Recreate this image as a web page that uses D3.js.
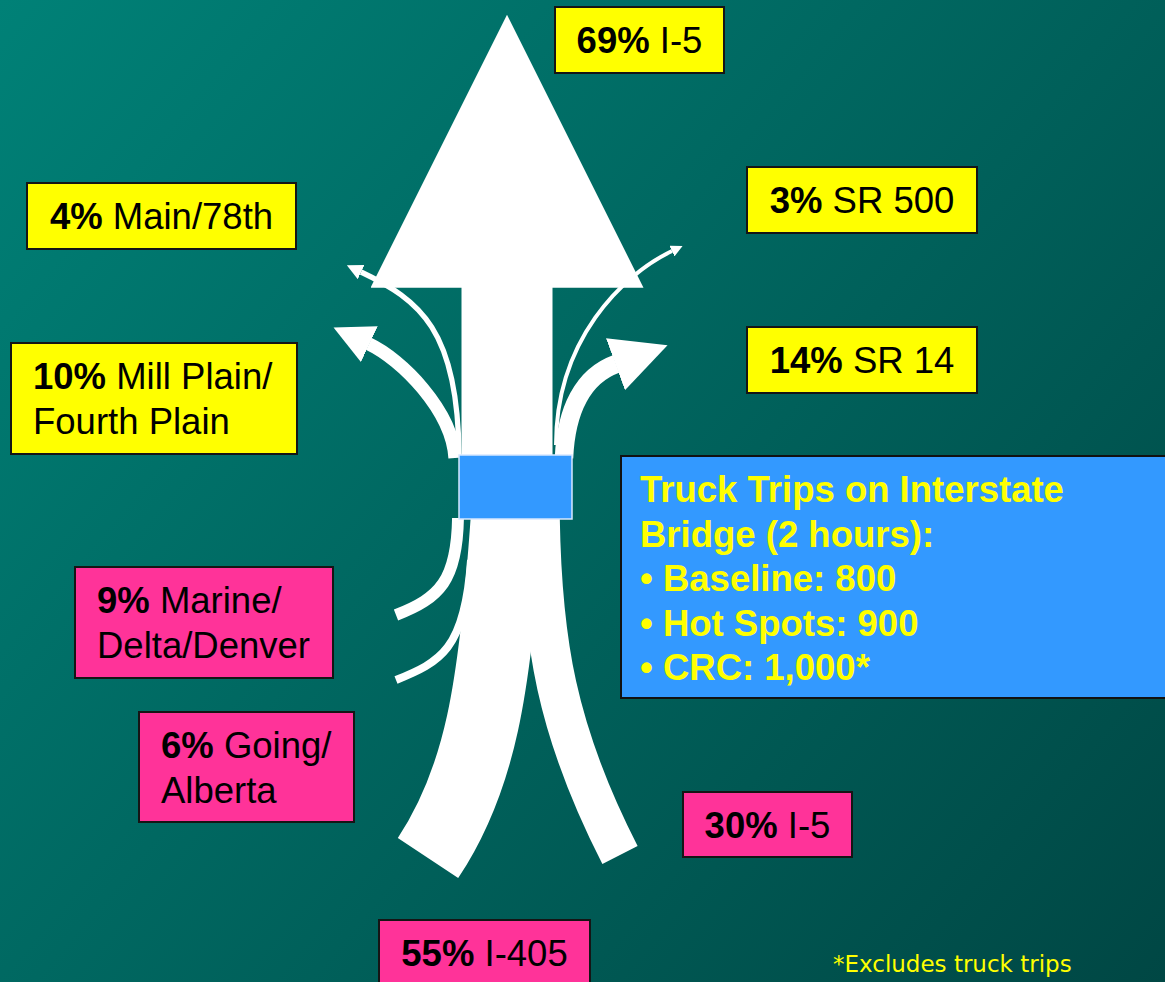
<!DOCTYPE html>
<html lang="en">
<head>
<meta charset="UTF-8">
<title>Truck trips on the Interstate Bridge</title>
<script src="https://cdn.jsdelivr.net/npm/d3@7"></script>
<style>
  html, body { margin: 0; padding: 0; background: #006660; }
  svg { display: block; }
</style>
</head>
<body>
<svg id="chart" width="1165" height="982"></svg>
<script>
// flows leaving the bridge (northbound)
var outRoutes = ["I-5", "SR 14", "Mill Plain/|Fourth Plain", "Main/78th", "SR 500"];
var outShares = [69, 14, 10, 4, 3];
// flows arriving at the bridge (from the south)
var inRoutes = ["I-405", "I-5", "Marine/|Delta/Denver", "Going/|Alberta"];
var inShares = [55, 30, 9, 6];
// truck trips on the bridge, 2 hours
var tripScenarios = ["Baseline", "Hot Spots", "CRC"];
var tripCounts = [800, 900, 1000];

// drawing layout: flow curve (cubic bezier) and label box for each route
var outLayout = [
  {curve: [[507,456],[507,400],[507,330],[507,285]], box: [555,7,169,66]},
  {curve: [[564,458],[566,410],[583,376],[616,364]], box: [747,327,230,66]},
  {curve: [[455,458],[452,410],[401,359],[369,344]], box: [11,343,286,111]},
  {curve: [[459,455],[458,330],[420,300],[361,272]], box: [27,183,269,66]},
  {curve: [[556,445],[556,340],[622,275],[672,251]], box: [747,167,230,66]}
];
var inLayout = [
  {curve: [[507,518],[495,690],[480,780],[428,858]], box: [379,920,211,70]},
  {curve: [[540,518],[542,640],[556,730],[620,855]], box: [683,792,169,65]},
  {curve: [[458,518],[457,580],[440,598],[396,615]], box: [75,567,258,111]},
  {curve: [[471,560],[465,650],[440,662],[396,680]], box: [139,712,215,110]}
];

var svg = d3.select("#chart");
var W = +svg.attr("width"), H = +svg.attr("height");

var defs = svg.append("defs");
var bg = defs.append("linearGradient").attr("id", "bg")
    .attr("gradientUnits", "userSpaceOnUse")
    .attr("x1", 0).attr("y1", 0).attr("x2", W).attr("y2", H);
bg.append("stop").attr("offset", 0).attr("stop-color", "#008177");
bg.append("stop").attr("offset", 1).attr("stop-color", "#004744");

defs.append("marker").attr("id", "head")
    .attr("viewBox", "0 0 10 10")
    .attr("markerUnits", "strokeWidth")
    .attr("markerWidth", 3).attr("markerHeight", 3)
    .attr("refX", 0.1).attr("refY", 5)
    .attr("orient", "auto")
  .append("path").attr("d", "M0,0L10,5L0,10Z").attr("fill", "#fff");

svg.append("rect").attr("width", W).attr("height", H).attr("fill", "url(#bg)");

// flow width proportional to share of trips
var width = d3.scaleLinear().domain([0, 69]).range([0, 91]);

function bez(c) {
  var p = d3.path();
  p.moveTo(c[0][0], c[0][1]);
  p.bezierCurveTo(c[1][0], c[1][1], c[2][0], c[2][1], c[3][0], c[3][1]);
  return p.toString();
}

var inData = inShares.map(function(v, i) { return {pct: v, route: inRoutes[i], lay: inLayout[i], fill: "#ff3399"}; });
var outData = outShares.map(function(v, i) { return {pct: v, route: outRoutes[i], lay: outLayout[i], fill: "#ffff00"}; });

svg.append("g").selectAll("path").data(inData).enter().append("path")
    .attr("d", function(d) { return bez(d.lay.curve); })
    .attr("fill", "none").attr("stroke", "#fff")
    .attr("stroke-width", function(d) { return width(d.pct); });

svg.append("g").selectAll("path").data(outData).enter().append("path")
    .attr("d", function(d) { return bez(d.lay.curve); })
    .attr("fill", "none").attr("stroke", "#fff")
    .attr("stroke-width", function(d) { return width(d.pct); })
    .attr("marker-end", "url(#head)");

// the bridge
svg.append("rect").attr("x", 459).attr("y", 455).attr("width", 113).attr("height", 64)
    .attr("fill", "#3399ff").attr("stroke", "#d8e8ff").attr("stroke-width", 1.5);

// label boxes
var labels = svg.append("g").selectAll("g").data(outData.concat(inData)).enter().append("g");
labels.append("rect")
    .attr("x", function(d) { return d.lay.box[0]; })
    .attr("y", function(d) { return d.lay.box[1]; })
    .attr("width", function(d) { return d.lay.box[2]; })
    .attr("height", function(d) { return d.lay.box[3]; })
    .attr("fill", function(d) { return d.fill; })
    .attr("stroke", "#151515").attr("stroke-width", 2);

labels.each(function(d) {
  var g = d3.select(this), b = d.lay.box;
  var lines = d.route.split("|");
  var t = g.append("text").attr("font-family", "'Liberation Sans', Arial, sans-serif")
      .attr("font-size", 36.5).attr("fill", "#000");
  if (lines.length === 1) {
    t.attr("x", b[0] + b[2] / 2).attr("y", b[1] + 46).attr("text-anchor", "middle");
    t.append("tspan").attr("font-weight", "bold").text(d.pct + "%");
    t.append("tspan").text(" " + lines[0]);
  } else {
    var x0 = b[0] + 22;
    var l1 = t.append("tspan").attr("x", x0).attr("y", b[1] + 46);
    l1.append("tspan").attr("font-weight", "bold").text(d.pct + "%");
    l1.append("tspan").text(" " + lines[0]);
    t.append("tspan").attr("x", x0).attr("y", b[1] + 91).text(lines[1]);
  }
});

// info box
svg.append("rect").attr("x", 621).attr("y", 456).attr("width", 600).attr("height", 242)
    .attr("fill", "#3399ff").attr("stroke", "#111").attr("stroke-width", 2);
var fmt = d3.format(",");
var infoLines = ["Truck Trips on Interstate", "Bridge (2 hours):"].concat(
  tripScenarios.map(function(s, i) { return "\u2022 " + s + ": " + fmt(tripCounts[i]) + (s === "CRC" ? "*" : ""); }));
svg.append("text").attr("font-family", "'Liberation Sans', Arial, sans-serif")
    .attr("font-size", 36.5).attr("font-weight", "bold").attr("fill", "#ffff00")
  .selectAll("tspan").data(infoLines).enter().append("tspan")
    .attr("x", 640).attr("y", function(d, i) { return 502 + i * 44.5; })
    .text(function(d) { return d; });

svg.append("text").attr("x", 833).attr("y", 972)
    .attr("font-family", "'DejaVu Sans', Verdana, sans-serif").attr("font-size", 23)
    .attr("fill", "#ffff00").text("*Excludes truck trips");
</script>
</body>
</html>
